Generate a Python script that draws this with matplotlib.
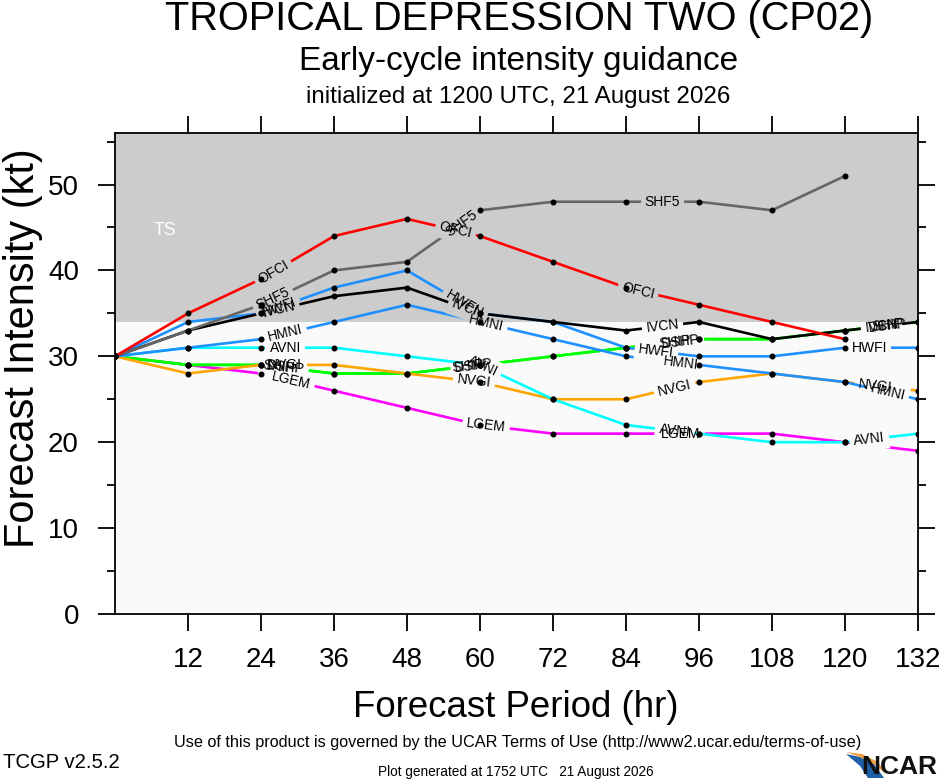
import numpy as np
import matplotlib
matplotlib.use("Agg")
import matplotlib.pyplot as plt
from matplotlib.patches import Polygon

plt.rcParams['font.family'] = ['Liberation Sans', 'DejaVu Sans']

# ---------------- data ----------------
hours = [0, 12, 24, 36, 48, 60, 72, 84, 96, 108, 120, 132]
xticks = [12, 24, 36, 48, 60, 72, 84, 96, 108, 120, 132]
yticks = [0, 10, 20, 30, 40, 50]

OFCI = [30, 35, 39, 44, 46, 44, 41, 38, 36, 34, 32]
SHF5 = [30, 33, 36, 40, 41, 47, 48, 48, 48, 47, 51]
HWFI = [30, 34, 35, 38, 40, 35, 34, 31, 30, 30, 31, 31]
HMNI = [30, 31, 32, 34, 36, 34, 32, 30, 29, 28, 27, 25]
IVCN = [30, 33, 35, 37, 38, 35, 34, 33, 34, 32, 33, 34]
AVNI = [30, 31, 31, 31, 30, 29, 25, 22, 21, 20, 20, 21]
NVGI = [30, 28, 29, 29, 28, 27, 25, 25, 27, 28, 27, 26]
SHIP = [30, 29, 29, 28, 28, 29, 30, 31, 32, 32, 33, 34]
DSHP = [30, 29, 29, 28, 28, 29, 30, 31, 32, 32, 33, 34]
LGEM = [30, 29, 28, 26, 24, 22, 21, 21, 21, 21, 20, 19]

ts_threshold = 34
ymax = 56

# draw order, colour, label hours
series = [
    ("LGEM", LGEM, "#ff00ff", [29, 61, 93]),
    ("SHIP", SHIP, "#00ff00", [27, 58, 92, 127]),
    ("DSHP", DSHP, "#00ff00", [28, 59, 93, 127]),
    ("NVGI", NVGI, "#ffa500", [28, 59, 92, 125]),
    ("AVNI", AVNI, "#00ffff", [28, 60.5, 92, 124]),
    ("HMNI", HMNI, "#1e90ff", [28, 61, 93, 127]),
    ("HWFI", HWFI, "#1e90ff", [27, 57, 89, 124]),
    ("IVCN", IVCN, "#000000", [27, 58, 90, 126]),
    ("SHF5", SHF5, "#666666", [26, 57, 90]),
    ("OFCI", OFCI, "#ff0000", [26, 56, 86]),
]

# ---------------- figure ----------------
W, H = 940, 780
fig = plt.figure(figsize=(W / 100, H / 100), dpi=100)
ax = fig.add_axes([115 / W, 1 - 614 / H, (918 - 115) / W, (614 - 133) / H])
ax.set_xlim(0, 132)
ax.set_ylim(0, ymax)
ax.set_facecolor("#fafafa")
band_ts = ax.axhspan(ts_threshold, ymax, color="#cccccc", zorder=0.5, lw=0)
band_lo = ax.axhspan(0, ts_threshold, color="#fafafa", zorder=0.5, lw=0)
ax.text(8.2, 44.6, "TS", color="white", fontsize=13,
        ha="center", va="center", zorder=1)

lab_kw = dict(fontsize=10, ha="center", va="center", rotation_mode="anchor",
              transform_rotates_text=True)

for i, (name, vals, col, lab_hours) in enumerate(series):
    hrs = hours[:len(vals)]
    z = 2 + i * 0.1
    ax.plot(hrs, vals, color=col, lw=1.9, zorder=z, solid_capstyle="butt")
    for h in lab_hours:
        yv = float(np.interp(h, hrs, vals))
        k = min(np.searchsorted(hrs, h, side="right") - 1, len(hrs) - 2)
        ang = np.degrees(np.arctan2(vals[k + 1] - vals[k], hrs[k + 1] - hrs[k]))
        # gap in the series' own line, coloured like the background behind it
        for band, bg in ((band_ts, "#cccccc"), (band_lo, "#fafafa")):
            t = ax.text(h, yv, name, color=(0, 0, 0, 0), rotation=ang, zorder=z + 0.05,
                        bbox=dict(boxstyle="square,pad=0.3", fc=bg, ec="none"), **lab_kw)
            t.set_clip_on(True)
            t.set_clip_path(band)
        ax.text(h, yv, name, color="black", rotation=ang, zorder=20, **lab_kw)
    ax.plot(hrs, vals, ls="none", marker="o", ms=3.3, color="black", zorder=15)

ax.set_xticks(xticks)
ax.set_yticks(yticks)
ax.set_yticks([5, 15, 25, 35, 45, 55], minor=True)
ax.tick_params(axis="both", which="major", direction="out", length=12, width=1.3,
               labelsize=20)
ax.tick_params(axis="x", pad=12, top=True, labeltop=False)
ax.tick_params(axis="y", pad=14, right=True, labelright=False)
ax.tick_params(axis="y", which="minor", direction="out", length=5.5, width=1.3,
               right=True, left=True)
for sp in ax.spines.values():
    sp.set_linewidth(1.3)

# axis titles
fig.text(516 / W, 1 - 717 / H, "Forecast Period (hr)", fontsize=26.4,
         ha="center", va="baseline")
fig.text(23 / W, 1 - 348 / H, "Forecast Intensity (kt)", fontsize=30,
         rotation=90, ha="center", va="center")

# ---------------- titles ----------------
fig.text(519 / W, 1 - 30 / H, "TROPICAL DEPRESSION TWO (CP02)", fontsize=28.6,
         ha="center", va="baseline")
fig.text(519 / W, 1 - 70 / H, "Early-cycle intensity guidance", fontsize=24,
         ha="center", va="baseline")
fig.text(518 / W, 1 - 103 / H, "initialized at 1200 UTC, 21 August 2026", fontsize=17.4,
         ha="center", va="baseline")

fig.text(518 / W, 1 - 743 / H,
         "Use of this product is governed by the UCAR Terms of Use (http://www2.ucar.edu/terms-of-use)",
         fontsize=11.7, ha="center", va="center")
fig.text(3 / W, 1 - 762 / H, "TCGP v2.5.2", fontsize=14.6, ha="left", va="center")
fig.text(516 / W, 1 - 772 / H, "Plot generated at 1752 UTC   21 August 2026",
         fontsize=9.8, ha="center", va="center")

# NCAR logo
sw = Polygon([(846 / W, 1 - 754 / H), (860 / W, 1 - 757 / H), (874 / W, 1 - 764 / H),
              (884 / W, 1 - 778 / H), (868 / W, 1 - 778 / H), (860 / W, 1 - 766 / H)],
             closed=True, transform=fig.transFigure, fc="#1f5fa8", ec="none")
fig.patches.append(sw)
sw2 = Polygon([(846 / W, 1 - 752 / H), (862 / W, 1 - 754 / H), (878 / W, 1 - 762 / H),
               (886 / W, 1 - 774 / H), (874 / W, 1 - 764 / H), (860 / W, 1 - 757 / H)],
              closed=True, transform=fig.transFigure, fc="#f0a040", ec="none")
fig.patches.append(sw2)
fig.text(937 / W, 1 - 767 / H, "NCAR", fontsize=19, weight="bold", ha="right",
         va="center", color="#111111")

fig.savefig("out.png", dpi=100)
